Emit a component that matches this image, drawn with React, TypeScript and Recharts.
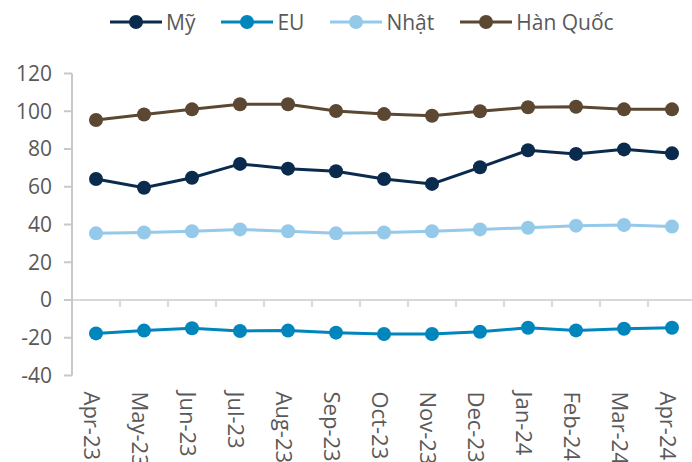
import { LineChart, Line, XAxis, YAxis, Legend, ReferenceLine } from 'recharts';

const MONTHS = ['Apr-23', 'May-23', 'Jun-23', 'Jul-23', 'Aug-23', 'Sep-23', 'Oct-23', 'Nov-23', 'Dec-23', 'Jan-24', 'Feb-24', 'Mar-24', 'Apr-24'];
const MY = [64.1, 59.5, 64.8, 72.1, 69.6, 68.2, 64.1, 61.5, 70.3, 79.3, 77.4, 79.8, 77.7];
const EU = [-17.7, -16.2, -15.0, -16.4, -16.2, -17.3, -18.0, -18.0, -16.8, -14.7, -16.1, -15.2, -14.7];
const NHAT = [35.3, 35.8, 36.4, 37.4, 36.4, 35.3, 35.8, 36.4, 37.4, 38.3, 39.4, 39.7, 38.9];
const HAN_QUOC = [95.4, 98.3, 101.0, 103.7, 103.7, 100.1, 98.5, 97.6, 100.0, 102.1, 102.4, 101.0, 101.0];
const Y_TICKS = [-40, -20, 0, 20, 40, 60, 80, 100, 120];

const SERIES = [
  { key: 'my', name: 'Mỹ', color: '#0b2b4e', values: MY },
  { key: 'eu', name: 'EU', color: '#0086bc', values: EU },
  { key: 'nhat', name: 'Nhật', color: '#94c9ea', values: NHAT },
  { key: 'hq', name: 'Hàn Quốc', color: '#5b4732', values: HAN_QUOC },
];

const data = MONTHS.map((month, i) => {
  const row: Record<string, any> = { month };
  SERIES.forEach((s) => { row[s.key] = s.values[i]; });
  return row;
});

const FONT = '"Open Sans", sans-serif';
const TEXT = '#595959';

// rotated month label
const MonthTick = ({ x, y, payload }: any) => (
  <text
    transform={`translate(${x - 3}, ${y}) rotate(90)`}
    textAnchor="start"
    dominantBaseline="central"
    fill={TEXT}
    fontSize={22}
    fontFamily={FONT}
  >
    {payload.value}
  </text>
);

// zero line with category separators, excel style
const ZeroLine = (props: any) => {
  const { x1, x2, y1 } = props;
  const step = (x2 - x1) / MONTHS.length;
  return (
    <g>
      <line x1={x1} x2={x2} y1={y1} y2={y1} stroke="#d9d9d9" strokeWidth={2} />
      {MONTHS.slice(1).map((m, i) => (
        <line key={m} x1={x1 + step * (i + 1)} x2={x1 + step * (i + 1)} y1={y1} y2={y1 + 7} stroke="#d9d9d9" strokeWidth={2} />
      ))}
    </g>
  );
};

const renderLegend = () => (
  <div style={{ display: 'flex', gap: 26, height: 40, alignItems: 'center', fontFamily: FONT, fontSize: 21, color: TEXT }}>
    {SERIES.map((s) => (
      <div key={s.key} style={{ display: 'flex', alignItems: 'center', gap: 4 }}>
        <svg width={52} height={16}>
          <line x1={0} x2={52} y1={8} y2={8} stroke={s.color} strokeWidth={3} />
          <circle cx={26} cy={8} r={7} fill={s.color} />
        </svg>
        <span>{s.name}</span>
      </div>
    ))}
  </div>
);

export default function App() {
  return (
    <div style={{ position: 'absolute', left: 0, top: 0, width: 692, height: 462, overflow: 'hidden', background: '#fff' }}>
      <LineChart width={696} height={462} data={data} margin={{ top: 33.5, right: 0, bottom: 0, left: 0 }}>
        <Legend verticalAlign="top" content={renderLegend} wrapperStyle={{ left: 110, top: 2, width: 'auto' }} />
        <XAxis
          dataKey="month"
          interval={0}
          padding={{ left: 24, right: 24 }}
          axisLine={false}
          tickLine={false}
          tickSize={6}
          tickMargin={10}
          height={86.5}
          tick={<MonthTick />}
        />
        <YAxis
          domain={[-40, 120]}
          ticks={Y_TICKS}
          width={72}
          axisLine={{ stroke: '#c8c8c8', strokeWidth: 2 }}
          tickLine={{ stroke: '#c8c8c8', strokeWidth: 2 }}
          tickSize={8}
          tickMargin={12}
          tick={{ fill: TEXT, fontSize: 21, fontFamily: FONT }}
        />
        <ReferenceLine y={0} shape={<ZeroLine />} />
        {SERIES.map((s) => (
          <Line
            key={s.key}
            dataKey={s.key}
            name={s.name}
            type="linear"
            stroke={s.color}
            strokeWidth={3}
            dot={{ r: 7, fill: s.color, stroke: 'none' }}
            activeDot={false}
            isAnimationActive={false}
          />
        ))}
      </LineChart>
    </div>
  );
}
